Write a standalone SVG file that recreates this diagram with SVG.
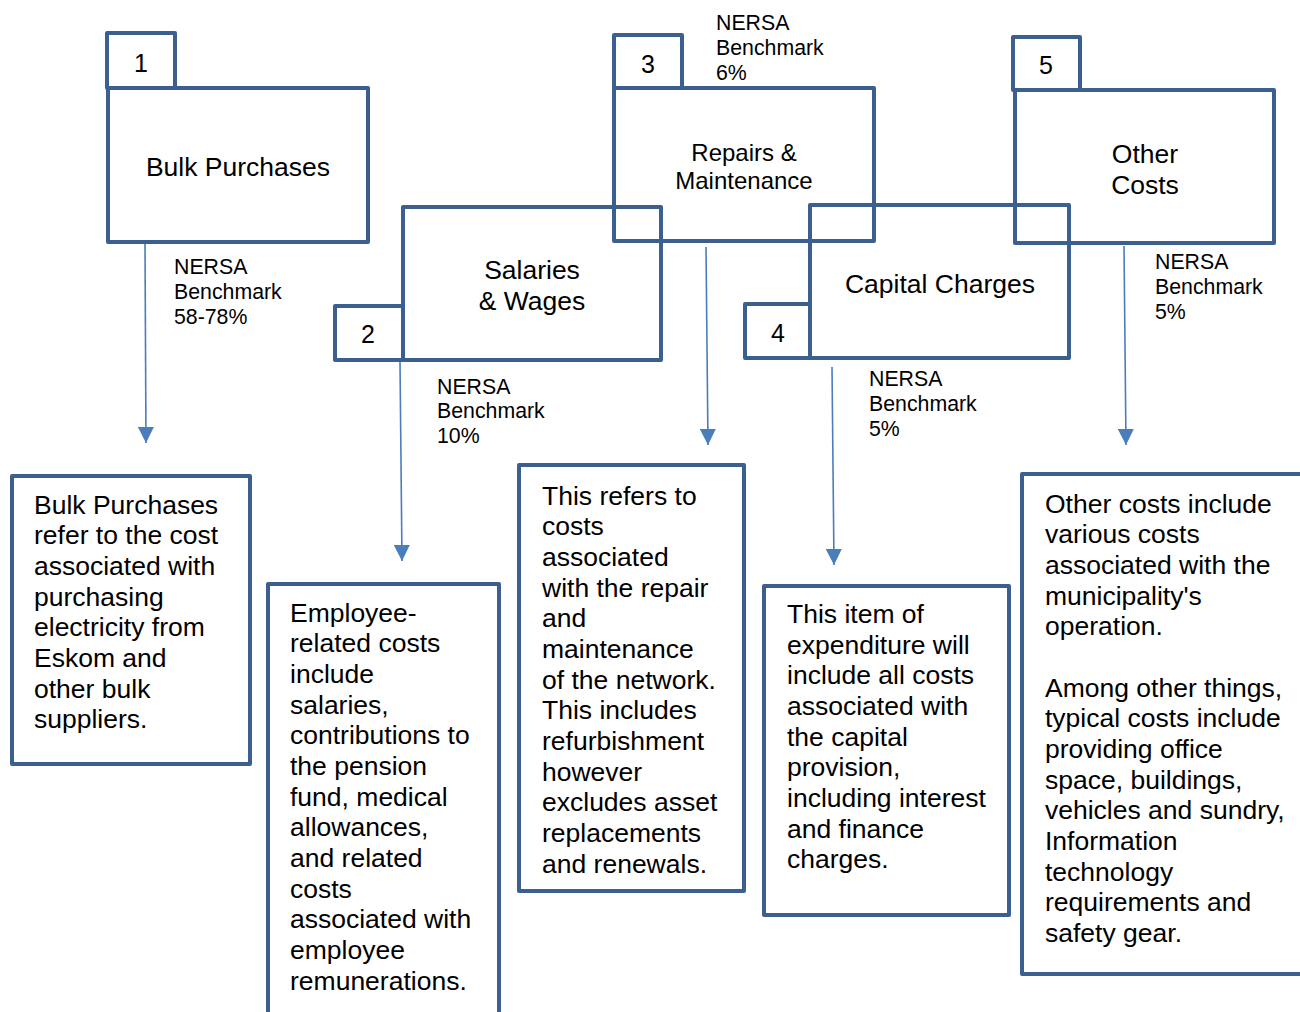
<svg xmlns="http://www.w3.org/2000/svg" width="1300" height="1012" viewBox="0 0 1300 1012">
  <style>
    .box { fill: none; stroke: #3B5F8E; stroke-width: 4; stroke-linejoin: round; }
    .title { font-family: "Liberation Sans", Arial, sans-serif; font-size: 26.5px; fill: #000; text-anchor: middle; }
    .num { font-family: "Liberation Sans", Arial, sans-serif; font-size: 25px; fill: #000; text-anchor: middle; }
    .desc { font-family: "Liberation Sans", Arial, sans-serif; font-size: 26.5px; fill: #000; }
    .bench { font-family: "Liberation Sans", Arial, sans-serif; font-size: 21.3px; fill: #000; }
    .link { stroke: #4A7EBB; stroke-width: 1.6; fill: none; }
  </style>
  <defs>
    <marker id="head" markerUnits="userSpaceOnUse" markerWidth="16" markerHeight="16" refX="16" refY="8" orient="auto">
      <path d="M0,0 L16,8 L0,16 z" fill="#4A7EBB"/>
    </marker>
  </defs>
  <rect width="1300" height="1012" fill="#fff"/>

  <!-- connectors -->
  <g id="connectors">
    <line class="link" x1="145" y1="244" x2="146" y2="443" marker-end="url(#head)"/>
    <line class="link" x1="400" y1="362" x2="402" y2="561" marker-end="url(#head)"/>
    <line class="link" x1="706" y1="247" x2="708" y2="445" marker-end="url(#head)"/>
    <line class="link" x1="832" y1="367" x2="834" y2="565" marker-end="url(#head)"/>
    <line class="link" x1="1124" y1="246" x2="1126" y2="445" marker-end="url(#head)"/>
  </g>

  <!-- 1: Bulk Purchases -->
  <g id="node-bulk">
    <rect class="box" x="107" y="33" width="68" height="55"/>
    <text class="num" x="141" y="72">1</text>
    <rect class="box" x="108" y="88" width="260" height="154"/>
    <text class="title" x="238" y="175.5">Bulk Purchases</text>
  </g>

  <!-- 2: Salaries & Wages -->
  <g id="node-salaries">
    <rect class="box" x="335" y="306" width="68" height="54"/>
    <text class="num" x="368" y="343">2</text>
    <rect class="box" x="403" y="207" width="258" height="153"/>
    <text class="title" x="532" y="278.5">Salaries</text>
    <text class="title" x="532" y="309.5">&amp; Wages</text>
  </g>

  <!-- 3: Repairs & Maintenance -->
  <g id="node-repairs">
    <rect class="box" x="614" y="35" width="68" height="53"/>
    <text class="num" x="648" y="73">3</text>
    <rect class="box" x="614" y="88" width="260" height="153"/>
    <text class="title" x="744" y="160.5" style="font-size:24px">Repairs &amp;</text>
    <text class="title" x="744" y="188.5" style="font-size:24px">Maintenance</text>
  </g>

  <!-- 4: Capital Charges -->
  <g id="node-capital">
    <rect class="box" x="745" y="304" width="65" height="54"/>
    <text class="num" x="778" y="342">4</text>
    <rect class="box" x="810" y="205" width="259" height="153"/>
    <text class="title" x="940" y="292.5">Capital Charges</text>
  </g>

  <!-- 5: Other Costs -->
  <g id="node-other">
    <rect class="box" x="1013" y="37" width="67" height="53"/>
    <text class="num" x="1046" y="74">5</text>
    <rect class="box" x="1015" y="90" width="259" height="153"/>
    <text class="title" x="1145" y="162.5">Other</text>
    <text class="title" x="1145" y="193.5">Costs</text>
  </g>

  <!-- benchmark labels -->
  <g id="bench-1" class="bench">
    <text x="174" y="273.5">NERSA</text>
    <text x="174" y="298.5">Benchmark</text>
    <text x="174" y="323.5">58-78%</text>
  </g>
  <g id="bench-2" class="bench">
    <text x="437" y="393.5">NERSA</text>
    <text x="437" y="418">Benchmark</text>
    <text x="437" y="442.5">10%</text>
  </g>
  <g id="bench-3" class="bench">
    <text x="716" y="29.5">NERSA</text>
    <text x="716" y="54.5">Benchmark</text>
    <text x="716" y="79.5">6%</text>
  </g>
  <g id="bench-4" class="bench">
    <text x="869" y="385.5">NERSA</text>
    <text x="869" y="411">Benchmark</text>
    <text x="869" y="435.5">5%</text>
  </g>
  <g id="bench-5" class="bench">
    <text x="1155" y="268.5">NERSA</text>
    <text x="1155" y="293.5">Benchmark</text>
    <text x="1155" y="318.5">5%</text>
  </g>

  <!-- descriptions -->
  <g id="desc-bulk">
    <rect class="box" x="12" y="476" width="238" height="288"/>
    <text class="desc" x="34" y="513.5">
      <tspan x="34" dy="0">Bulk Purchases</tspan>
      <tspan x="34" dy="30.7">refer to the cost</tspan>
      <tspan x="34" dy="30.7">associated with</tspan>
      <tspan x="34" dy="30.7">purchasing</tspan>
      <tspan x="34" dy="30.7">electricity from</tspan>
      <tspan x="34" dy="30.7">Eskom and</tspan>
      <tspan x="34" dy="30.7">other bulk</tspan>
      <tspan x="34" dy="30.7">suppliers.</tspan>
    </text>
  </g>

  <g id="desc-salaries">
    <rect class="box" x="268" y="584" width="231" height="440"/>
    <text class="desc" x="290" y="621.5">
      <tspan x="290" dy="0">Employee-</tspan>
      <tspan x="290" dy="30.67">related costs</tspan>
      <tspan x="290" dy="30.67">include</tspan>
      <tspan x="290" dy="30.67">salaries,</tspan>
      <tspan x="290" dy="30.67">contributions to</tspan>
      <tspan x="290" dy="30.67">the pension</tspan>
      <tspan x="290" dy="30.67">fund, medical</tspan>
      <tspan x="290" dy="30.67">allowances,</tspan>
      <tspan x="290" dy="30.67">and related</tspan>
      <tspan x="290" dy="30.67">costs</tspan>
      <tspan x="290" dy="30.67">associated with</tspan>
      <tspan x="290" dy="30.67">employee</tspan>
      <tspan x="290" dy="30.67">remunerations.</tspan>
    </text>
  </g>

  <g id="desc-repairs">
    <rect class="box" x="519" y="465" width="225" height="426"/>
    <text class="desc" x="542" y="504.5">
      <tspan x="542" dy="0">This refers to</tspan>
      <tspan x="542" dy="30.67">costs</tspan>
      <tspan x="542" dy="30.67">associated</tspan>
      <tspan x="542" dy="30.67">with the repair</tspan>
      <tspan x="542" dy="30.67">and</tspan>
      <tspan x="542" dy="30.67">maintenance</tspan>
      <tspan x="542" dy="30.67">of the network.</tspan>
      <tspan x="542" dy="30.67">This includes</tspan>
      <tspan x="542" dy="30.67">refurbishment</tspan>
      <tspan x="542" dy="30.67">however</tspan>
      <tspan x="542" dy="30.67">excludes asset</tspan>
      <tspan x="542" dy="30.67">replacements</tspan>
      <tspan x="542" dy="30.67">and renewals.</tspan>
    </text>
  </g>

  <g id="desc-capital">
    <rect class="box" x="764" y="586" width="245" height="329"/>
    <text class="desc" x="787" y="623">
      <tspan x="787" dy="0">This item of</tspan>
      <tspan x="787" dy="30.67">expenditure will</tspan>
      <tspan x="787" dy="30.67">include all costs</tspan>
      <tspan x="787" dy="30.67">associated with</tspan>
      <tspan x="787" dy="30.67">the capital</tspan>
      <tspan x="787" dy="30.67">provision,</tspan>
      <tspan x="787" dy="30.67">including interest</tspan>
      <tspan x="787" dy="30.67">and finance</tspan>
      <tspan x="787" dy="30.67">charges.</tspan>
    </text>
  </g>

  <g id="desc-other">
    <rect class="box" x="1022" y="474" width="300" height="500"/>
    <text class="desc" x="1045" y="512.5">
      <tspan x="1045" dy="0">Other costs include</tspan>
      <tspan x="1045" dy="30.67">various costs</tspan>
      <tspan x="1045" dy="30.67">associated with the</tspan>
      <tspan x="1045" dy="30.67">municipality's</tspan>
      <tspan x="1045" dy="30.67">operation.</tspan>
      <tspan x="1045" dy="61.34">Among other things,</tspan>
      <tspan x="1045" dy="30.67">typical costs include</tspan>
      <tspan x="1045" dy="30.67">providing office</tspan>
      <tspan x="1045" dy="30.67">space, buildings,</tspan>
      <tspan x="1045" dy="30.67">vehicles and sundry,</tspan>
      <tspan x="1045" dy="30.67">Information</tspan>
      <tspan x="1045" dy="30.67">technology</tspan>
      <tspan x="1045" dy="30.67">requirements and</tspan>
      <tspan x="1045" dy="30.67">safety gear.</tspan>
    </text>
  </g>
</svg>
